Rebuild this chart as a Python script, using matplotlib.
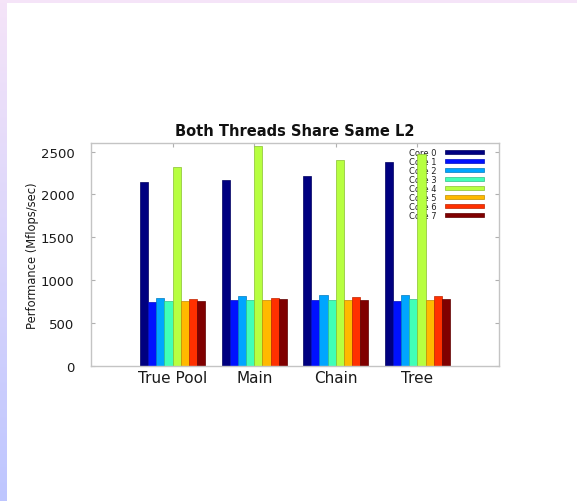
import numpy as np
import matplotlib
matplotlib.use("Agg")
import matplotlib.pyplot as plt
from matplotlib.patches import Rectangle, Patch

# Benchmark results (Mflops/sec) per scheduling strategy and core
strategies = ["True Pool", "Main", "Chain", "Tree"]
cores = ["Core 0", "Core 1", "Core 2", "Core 3", "Core 4", "Core 5", "Core 6", "Core 7"]
core0 = [2146, 2166, 2212, 2379]
core1 = [750, 766, 770, 758]
core2 = [793, 813, 824, 824]
core3 = [758, 770, 774, 781]
core4 = [2317, 2562, 2407, 2473]
core5 = [758, 770, 770, 770]
core6 = [785, 797, 801, 816]
core7 = [754, 785, 770, 781]
series = [core0, core1, core2, core3, core4, core5, core6, core7]
yticks = [0, 500, 1000, 1500, 2000, 2500]

plt.rcParams["font.family"] = ["DejaVu Sans"]

W, H = 577, 502
fig = plt.figure(figsize=(W / 100, H / 100), dpi=100)
fig.patch.set_facecolor("white")

# slide decoration: thin gradient strip on the left, tint band on top
top_c = np.array([245, 228, 248]) / 255
bot_c = np.array([190, 198, 255]) / 255
grad = np.linspace(0, 1, 256)[:, None, None]
img = top_c * (1 - grad) + bot_c * grad
sax = fig.add_axes([0, 0, 7 / W, 1])
sax.imshow(img, aspect="auto", extent=[0, 1, 0, 1])
sax.set_axis_off()
fig.add_artist(Rectangle((0, 1 - 4 / H), 1, 4 / H, transform=fig.transFigure,
                         facecolor=top_c, edgecolor="none"))

ax = fig.add_axes([91 / W, 1 - 367 / H, 408 / W, 223 / H])
colors = plt.cm.jet(np.linspace(0, 1, len(cores)))
x = np.arange(1, len(strategies) + 1)
bw = 0.1
for i, (vals, col) in enumerate(zip(series, colors)):
    edge = tuple(np.clip(np.array(col[:3]) * 0.75, 0, 1))
    ax.bar(x - 0.4 + i * bw, vals, width=bw, align="edge", color=col,
           edgecolor=edge, linewidth=0.5, zorder=2)

ax.set_xlim(0, 5)
ax.set_ylim(0, 2600)
ax.set_xticks(x)
ax.set_xticklabels(strategies)
ax.set_yticks(yticks)
ax.set_yticklabels([str(v) for v in yticks])
ax.tick_params(axis="both", direction="in", length=3, width=0.8, color="#b0b0b0",
               labelcolor="#1a1a1a", top=True, right=True)
ax.tick_params(axis="y", pad=12, labelsize=9.5)
ax.tick_params(axis="x", pad=3, labelsize=11)
for s in ax.spines.values():
    s.set_color("#c4c4c4")
    s.set_linewidth(1.0)

ax.set_title("Both Threads Share Same L2", fontsize=10.5, fontweight="bold", pad=6,
             color="#111111")
ax.set_ylabel("Performance (Mflops/sec)", fontsize=8.3, color="#1a1a1a")
ax.yaxis.set_label_coords(-0.128, 0.5)

handles = [Patch(facecolor=c, edgecolor=tuple(np.array(c[:3]) * 0.75), linewidth=0.5)
           for c in colors]
leg = ax.legend(handles, cores, loc="upper right", bbox_to_anchor=(0.963, 0.978),
                frameon=False, fontsize=6, markerfirst=False, handlelength=4.7,
                handleheight=0.5, handletextpad=0.95, labelspacing=0.0,
                borderpad=0, borderaxespad=0)
for t in leg.get_texts():
    t.set_color("#222222")
leg.set_zorder(1)

fig.savefig("out.png", dpi=100, facecolor=fig.get_facecolor())
